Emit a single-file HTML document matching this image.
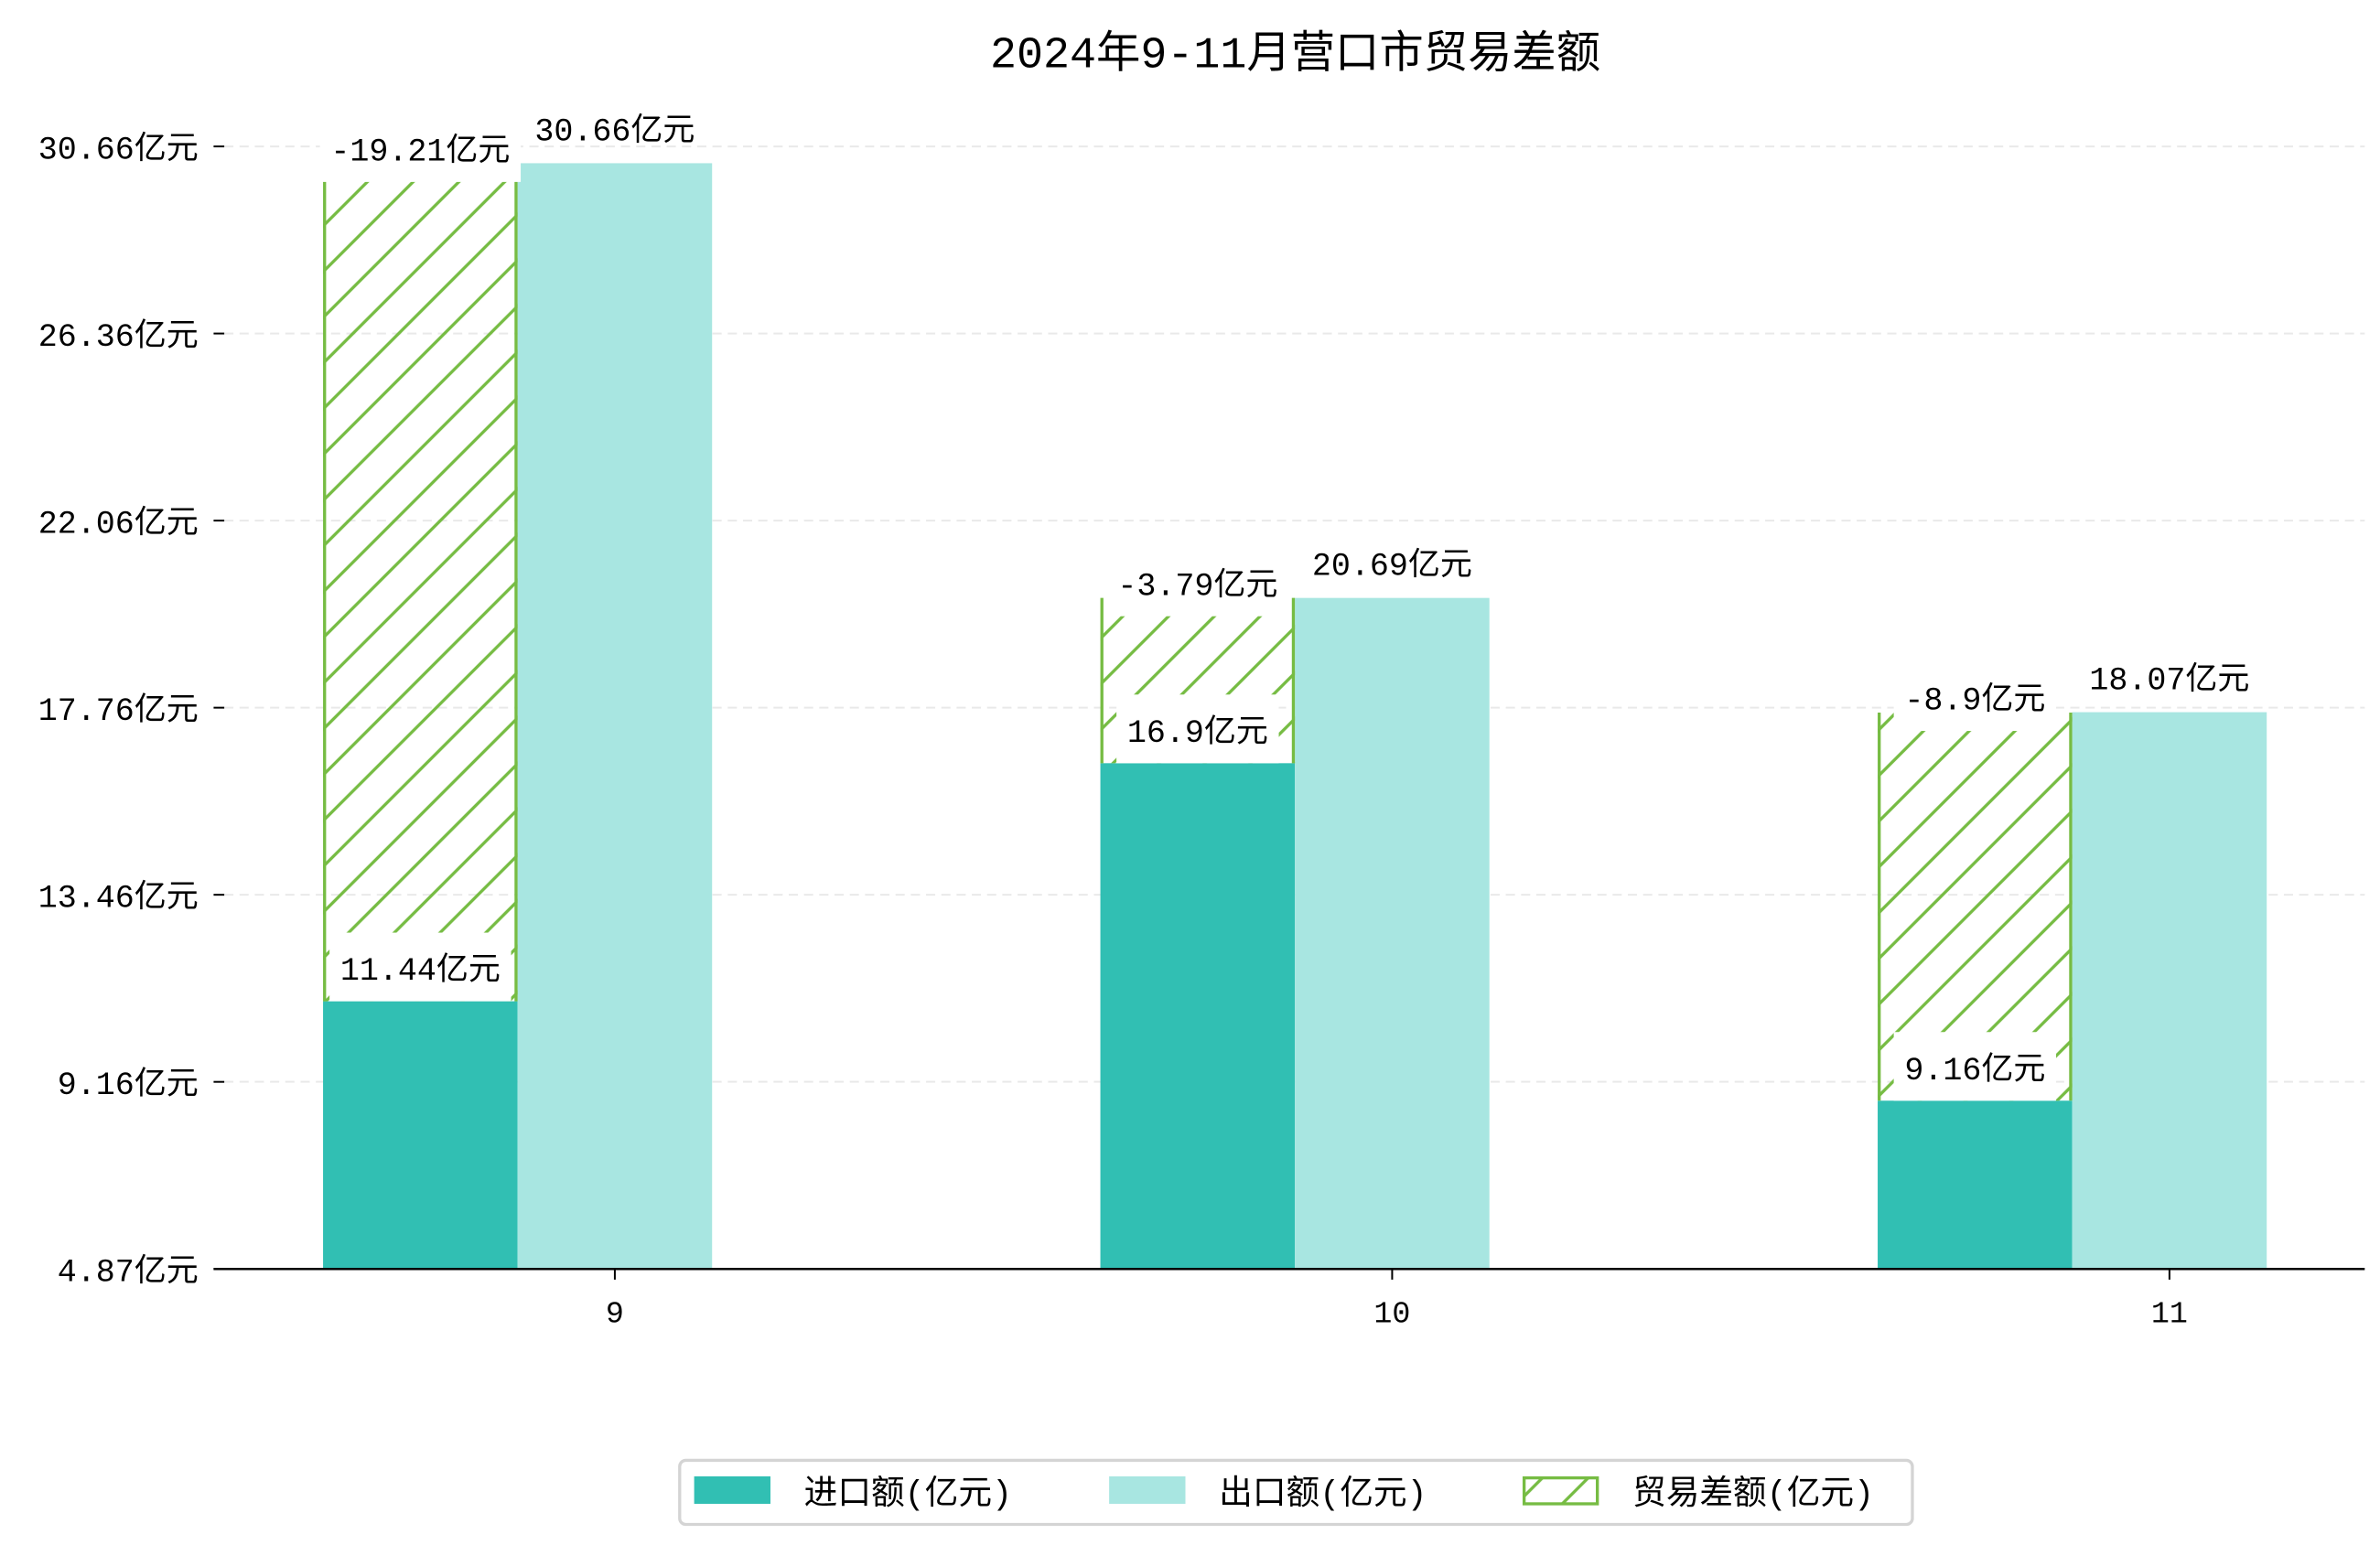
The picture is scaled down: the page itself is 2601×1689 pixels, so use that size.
<!DOCTYPE html>
<html><head><meta charset="utf-8">
<style>
html,body{margin:0;padding:0;background:#fff;}
svg{display:block;}
text{font-family:"Liberation Mono","WenQuanYi Zen Hei","Noto Sans CJK SC",monospace;fill:#000;}
</style></head>
<body>
<svg id="chart" width="2601" height="1689" viewBox="0 0 1560 1013" xmlns="http://www.w3.org/2000/svg">
<defs>
<pattern id="hatch" patternUnits="userSpaceOnUse" width="30" height="30">
<path d="M-5,5 L5,-5 M0,30 L30,0 M25,35 L35,25" stroke="#76bc43" stroke-width="2"/>
</pattern>
</defs>
<text x="849" y="44" font-size="29" text-anchor="middle">2024年9-11月营口市贸易差额</text>
<g id="grid"></g>
<g id="bars"></g>
<g id="labels"></g>
<g id="axes"></g>
<g id="legend">
<rect x="445.5" y="957.5" width="808" height="42" rx="4" fill="#fff" stroke="#d4d4d4" stroke-width="2"/>
<rect x="455" y="968" width="50" height="18" fill="#31bfb3"/>
<text x="527" y="986" font-size="22">进口额(亿元)</text>
<rect x="727" y="968" width="50" height="18" fill="#a8e6e1"/>
<text x="799" y="986" font-size="22">出口额(亿元)</text>
<rect x="999" y="969" width="48" height="17" fill="url(#hatch)" stroke="#76bc43" stroke-width="2"/>
<text x="1070" y="986" font-size="22">贸易差额(亿元)</text>
</g>
</svg>
<script>
const categories = ["9", "10", "11"];
const imports = [11.44, 16.9, 9.16];
const exports = [30.66, 20.69, 18.07];
const balance = [-19.21, -3.79, -8.9];
const tickLabels = ["4.87亿元", "9.16亿元", "13.46亿元", "17.76亿元", "22.06亿元", "26.36亿元", "30.66亿元"];

const NS = "http://www.w3.org/2000/svg";
const plotLeft = 140, plotRight = 1550, baseY = 832, topTickY = 96;
const groupStart = 403, groupStep = 509.5, barW = 127.5;
const refVal = 30.66, refY = 107, pxPerUnit = 28.59;
function yScale(v){ return refY + (refVal - v) * pxPerUnit; }
function xCenter(i){ return groupStart + i * groupStep; }
function tickY(i){ return baseY - i * (baseY - topTickY) / (tickLabels.length - 1); }
function mk(tag, attrs, parent){
  const e = document.createElementNS(NS, tag);
  for (const k in attrs) e.setAttribute(k, attrs[k]);
  parent.appendChild(e);
  return e;
}
function fmt(v){ return String(v) + "亿元"; }
function lblW(s){ let w = 0; for (const ch of s) w += /[\u4e00-\u9fff]/.test(ch) ? 21 : 12.6; return w; }
const grid = document.getElementById("grid");
const bars = document.getElementById("bars");
const labels = document.getElementById("labels");
const axes = document.getElementById("axes");

tickLabels.forEach((t, i) => {
  const y = tickY(i);
  if (i > 0) {
    const g = mk("line", {x1: 147, x2: plotRight, y1: y, y2: y, stroke: "#e9e9e9", "stroke-width": 1.2, "stroke-dasharray": "6,4"}, grid);
    
    
  }
  const tk = mk("line", {x1: 140, x2: 147, y1: y, y2: y, stroke: "#000", "stroke-width": 1.2}, axes);
  
  
  const tl = mk("text", {x: 130, y: y + 8, "font-size": 21, "text-anchor": "end"}, axes);
  tl.textContent = t;
  
  
});

categories.forEach((c, i) => {
  const xc = xCenter(i);
  const impX = xc - 1.5 * barW, expX = xc - 0.5 * barW;
  const yi = yScale(imports[i]), ye = yScale(exports[i]);
  const ib = mk("rect", {x: impX, y: yi, width: barW, height: baseY - yi, fill: "#31bfb3"}, bars);
  
  
  const eb = mk("rect", {x: expX, y: ye, width: barW, height: baseY - ye, fill: "#a8e6e1"}, bars);
  
  
  const yb = yScale(imports[i] + Math.abs(balance[i]));
  const hb = mk("rect", {x: impX, y: yb, width: barW, height: yi - yb, fill: "url(#hatch)"}, bars);
  
  
  const sl = mk("line", {x1: impX + 1, x2: impX + 1, y1: yb, y2: yi, stroke: "#76bc43", "stroke-width": 2}, bars);
  
  
  const sr = mk("line", {x1: impX + barW - 1, x2: impX + barW - 1, y1: yb, y2: yi, stroke: "#76bc43", "stroke-width": 2}, bars);
  
  

  const ic = impX + barW / 2;
  const iw = lblW(fmt(imports[i])) + 14;
  const ibx = mk("rect", {x: ic - iw / 2, y: yi - 45, width: iw, height: 45, fill: "#fff"}, labels);
  
  
  const it = mk("text", {x: ic, y: yi - 14, "font-size": 21, "text-anchor": "middle"}, labels);
  it.textContent = fmt(imports[i]);
  
  

  const bw = lblW(fmt(balance[i])) + 14;
  const bBot = yb + 12;
  const bbx = mk("rect", {x: ic - bw / 2, y: bBot - 42, width: bw, height: 42, fill: "#fff"}, labels);
  
  
  const bt = mk("text", {x: ic, y: bBot - 14, "font-size": 21, "text-anchor": "middle"}, labels);
  bt.textContent = fmt(balance[i]);
  
  

  const et = mk("text", {x: expX + barW / 2, y: ye - 15, "font-size": 21, "text-anchor": "middle"}, labels);
  et.textContent = fmt(exports[i]);
  
  

  const xt = mk("line", {x1: xc, x2: xc, y1: baseY, y2: baseY + 7, stroke: "#000", "stroke-width": 1.2}, axes);
  
  
  const xl = mk("text", {x: xc, y: baseY + 35, "font-size": 20, "text-anchor": "middle"}, axes);
  xl.textContent = c;
  
  
});

const ax = mk("line", {x1: plotLeft, x2: plotRight, y1: baseY, y2: baseY, stroke: "#000", "stroke-width": 1.5}, axes);


</script>
</body></html>
